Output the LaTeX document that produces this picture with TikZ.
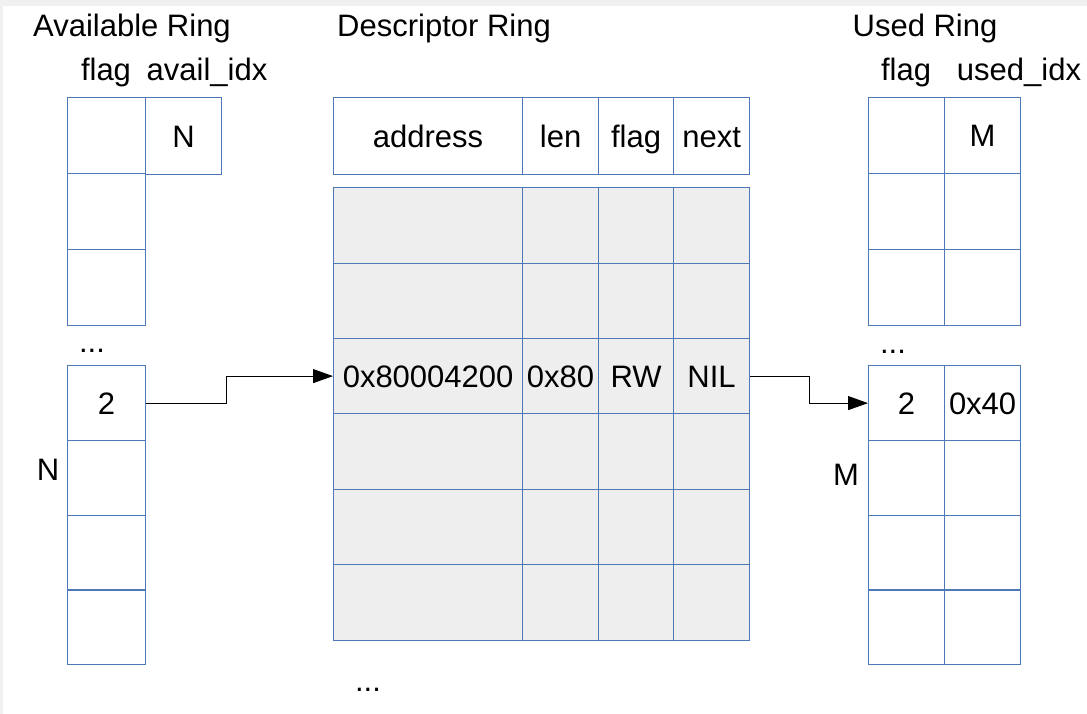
\documentclass[tikz,border=0pt]{standalone}
\usepackage{fontspec}
\setmainfont{Liberation Sans}
\usetikzlibrary{arrows.meta}

\definecolor{bggray}{HTML}{F0F0F0}
\definecolor{cellgray}{HTML}{EEEEEE}
\definecolor{cellblue}{HTML}{4E79B7}

\tikzset{
  cell/.style 2 args={draw=cellblue, line width=1.2pt, minimum width=#1, minimum height=#2,
    inner sep=0pt, anchor=north west, text height=22pt, text depth=0pt},
  lbl/.style={inner sep=0pt},
  link/.style={draw=black, line width=1pt, -{Triangle[length=20pt,width=14pt]}}
}

\begin{document}
\begin{tikzpicture}[x=1pt, y=-1pt, font=\fontsize{31}{37}\selectfont]
  \useasboundingbox (0,0) rectangle (1087,714);
  \fill[bggray] (0,0) rectangle (1087,714);
  \fill[white] (3,6) rectangle (1087,714);

  % titles
  \node[lbl] (availtitle) at (132,28) {Available Ring};
  \node[lbl] (desctitle) at (444,28) {Descriptor Ring};
  \node[lbl] (usedtitle) at (925,28) {Used Ring};
  \node[lbl] (availflag) at (106,72) {flag};
  \node[lbl] (availidx) at (207,72) {avail\_idx};
  \node[lbl] (usedflag) at (906,72) {flag};
  \node[lbl] (usedidx) at (1019,72) {used\_idx};

  % available ring
  \foreach \i/\y in {1/97,2/173,3/249}
    \node[cell={78}{76}] (avf\i) at (67,\y) {};
  \node[cell={76}{77}] (avi1) at (145,97) {N};
  \node[lbl] (availdots) at (92,351) {...};
  \foreach \i/\y/\t in {4/365/2,5/440/{},6/515/{},7/589/{}}
    \node[cell={78}{75}] (avf\i) at (67,\y) {\t};
  \node[lbl] (availn) at (48,470) {N};

  % descriptor ring
  \foreach \c/\x/\w/\t in {a/333/189/address,b/522/76/len,c/598/75/flag,d/673/76/next}
    \node[cell={\w}{77}] (dh\c) at (\x,97) {\t};
  \foreach \r/\y in {1/187,2/263,4/413,5/489,6/564}
    \foreach \c/\x/\w in {a/333/189,b/522/76,c/598/75,d/673/76}
      \node[cell={\w}{76}, fill=cellgray] (d\r\c) at (\x,\y) {};
  \foreach \c/\x/\w/\t in {a/333/189/0x80004200,b/522/76/0x80,c/598/75/RW,d/673/76/NIL}
    \node[cell={\w}{75}, fill=cellgray] (d3\c) at (\x,338) {\t};
  \node[lbl] (descdots) at (368,690) {...};

  % used ring
  \foreach \i/\y in {1/97,2/173,3/249} {
    \node[cell={76}{76}] (usf\i) at (868,\y) {};
  }
  \node[cell={76}{76}] (usi1) at (944,97) {M};
  \node[cell={76}{76}] (usi2) at (944,173) {};
  \node[cell={76}{76}] (usi3) at (944,249) {};
  \node[lbl] (useddots) at (893,352) {...};
  \foreach \i/\y/\t/\u in {4/365/2/0x40,5/440/{}/{},6/515/{}/{},7/589/{}/{}} {
    \node[cell={76}{75}] (usf\i) at (868,\y) {\t};
    \node[cell={76}{75}] (usi\i) at (944,\y) {\u};
  }
  \node[lbl] (usedm) at (846,475) {M};

  % links
  \draw[link] (avf4.east) -- ++(80,0) |- (d3a.west);
  \draw[link] (d3d.east) -- ++(59,0) |- (usf4.west);
\end{tikzpicture}
\end{document}
